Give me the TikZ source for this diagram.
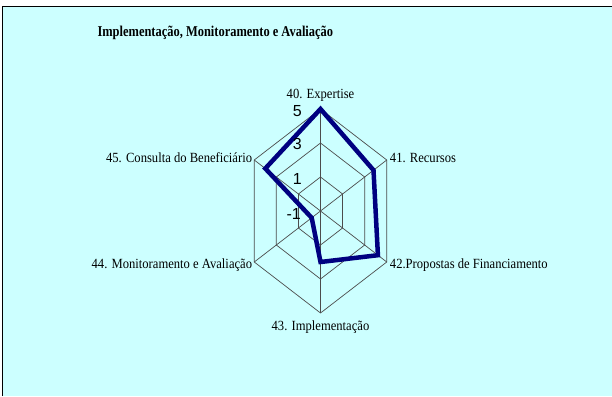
\documentclass[tikz,border=0pt]{standalone}
\usepackage{fontspec}
\setmainfont{Liberation Serif}
\setsansfont{Liberation Sans}
\usepackage{graphicx}
\usetikzlibrary{positioning}

\definecolor{chartbg}{RGB}{204,255,255}
\definecolor{linenavy}{RGB}{0,0,128}
\newcommand{\narrow}[1]{\scalebox{0.9}[1]{#1}}

\begin{document}
\begin{tikzpicture}[x=1pt, y=-1pt, font=\fontsize{14}{14}\selectfont,
    grid/.style={draw=black!70, line width=0.7pt},
    axlabel/.style={inner sep=1pt},
    tick/.style={font=\sffamily\fontsize{16}{16}\selectfont, anchor=east, inner sep=0pt}]
    \useasboundingbox (0,0) rectangle (612,396);
    \fill[white] (0,0) rectangle (612,396);
    \fill[chartbg] (2.5,6.5) rectangle (612,396);
    \draw[line width=1.2pt] (2.5,396) -- (2.5,6.5) -- (612,6.5);

    \node[font=\bfseries\fontsize{15}{15}\selectfont, anchor=west] (title) at (94,33)
        {\scalebox{0.83}[1]{Implementação, Monitoramento e Avaliação}};

    \begin{scope}[shift={(320.5,211)}, x=0.75pt, y=1pt]
        \coordinate (c) at (0,0);
        % outer vertices (value 5)
        \coordinate (a40) at (90:102);
        \coordinate (a41) at (30:102);
        \coordinate (a42) at (-30:102);
        \coordinate (a43) at (-90:102);
        \coordinate (a44) at (-150:102);
        \coordinate (a45) at (150:102);
        \coordinate (r3) at (90:68);
        \coordinate (r1) at (90:34);

        % rings
        \draw[grid] (90:34) -- (30:34) -- (-30:34) -- (-90:34) -- (-150:34) -- (150:34) -- cycle;
        \draw[grid] (90:68) -- (30:68) -- (-30:68) -- (-90:68) -- (-150:68) -- (150:68) -- cycle;
        \draw[grid] (a40) -- (a41) -- (a42) -- (a43) -- (a44) -- (a45) -- cycle;

        % spokes
        \draw[grid] (c) -- (a40);
        \draw[grid] (c) -- (a41);
        \draw[grid] (c) -- (a42);
        \draw[grid] (c) -- (a43);
        \draw[grid] (c) -- (a44);
        \draw[grid] (c) -- (a45);

        % data
        \coordinate (d40) at (90:102);
        \coordinate (d41) at (30:81.6);
        \coordinate (d42) at (-30:88.4);
        \coordinate (d43) at (-90:51);
        \coordinate (d44) at (-150:13.6);
        \coordinate (d45) at (150:85);
        \draw[linenavy, line width=4.5pt, line join=miter]
            (d40) -- (d41) -- (d42) -- (d43) -- (d44) -- (d45) -- cycle;
    \end{scope}

    \node[tick] (t5) at ([xshift=-18.5pt, yshift=-2pt]a40) {5};
    \node[tick] (t3) at ([xshift=-18.5pt, yshift=-1pt]r3) {3};
    \node[tick] (t1) at ([xshift=-18.5pt, yshift=-2pt]r1) {1};
    \node[tick] (tm1) at ([xshift=-19.5pt, yshift=-3pt]c) {-1};

    \node[axlabel, above=6pt of a40] (l40) {\narrow{40. Expertise}};
    \node[axlabel, right=2pt of a41, yshift=2pt] (l41) {\narrow{41. Recursos}};
    \node[axlabel, right=2pt of a42, yshift=-3pt] (l42) {\narrow{42.Propostas de Financiamento}};
    \node[axlabel, below=7pt of a43] (l43) {\narrow{43. Implementação}};
    \node[axlabel, left=1pt of a44, yshift=-3pt] (l44) {\narrow{44. Monitoramento e Avaliação}};
    \node[axlabel, left=1pt of a45, yshift=2pt] (l45) {\narrow{45. Consulta do Beneficiário}};
\end{tikzpicture}
\end{document}
